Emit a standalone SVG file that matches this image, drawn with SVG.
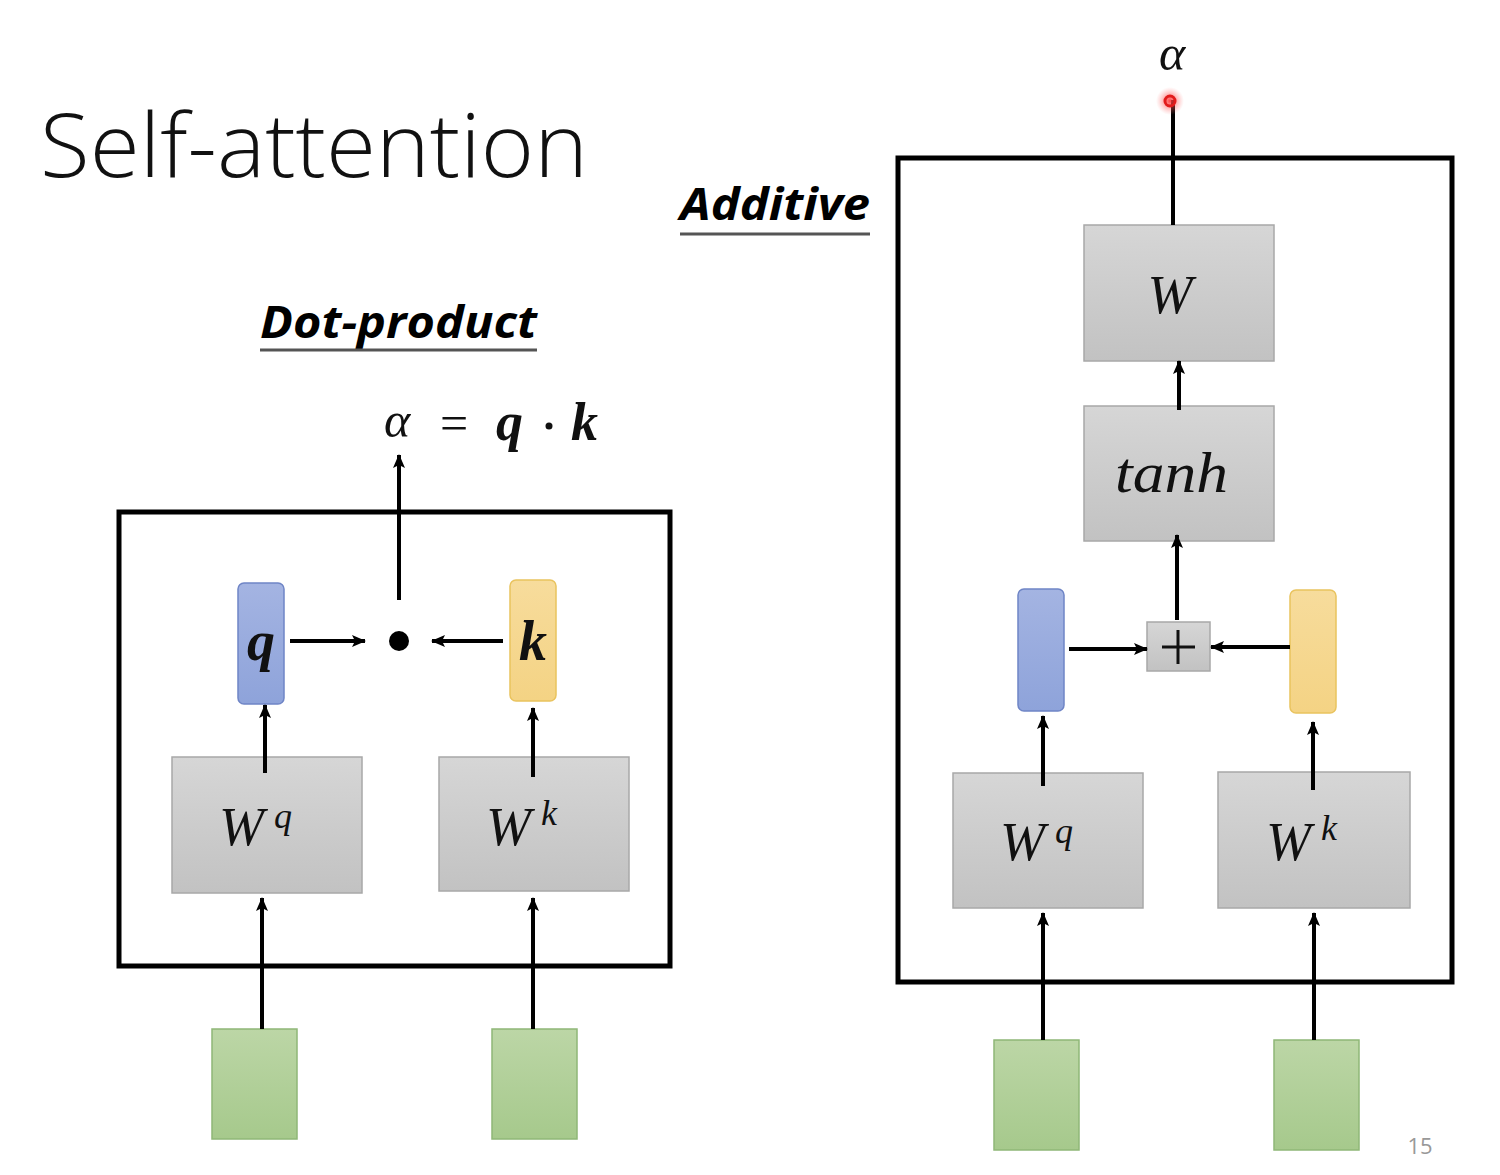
<svg xmlns="http://www.w3.org/2000/svg" width="1500" height="1175" viewBox="0 0 1500 1175">
<defs>
<linearGradient id="gGray" x1="0" y1="0" x2="0" y2="1"><stop offset="0" stop-color="#d6d6d6"/><stop offset="1" stop-color="#c2c2c2"/></linearGradient>
<linearGradient id="gBlue" x1="0" y1="0" x2="0" y2="1"><stop offset="0" stop-color="#a4b4e2"/><stop offset="1" stop-color="#8ea3da"/></linearGradient>
<linearGradient id="gYel" x1="0" y1="0" x2="0" y2="1"><stop offset="0" stop-color="#f7dc9c"/><stop offset="1" stop-color="#f4d384"/></linearGradient>
<linearGradient id="gGreen" x1="0" y1="0" x2="0" y2="1"><stop offset="0" stop-color="#bcd6a6"/><stop offset="1" stop-color="#a6c98c"/></linearGradient>
<radialGradient id="gGlow"><stop offset="0" stop-color="#ff3030" stop-opacity="0.9"/><stop offset="0.5" stop-color="#ff5050" stop-opacity="0.4"/><stop offset="1" stop-color="#ff8080" stop-opacity="0"/></radialGradient>
<marker id="ah" viewBox="0 0 14 12" refX="13" refY="6" markerWidth="14" markerHeight="12" markerUnits="userSpaceOnUse" orient="auto"><path d="M0,0 L14,6 L0,12 L3,6 Z" fill="#000"/></marker>
</defs>
<style>
.frame{fill:none;stroke:#000;stroke-width:5}
.gray{fill:url(#gGray);stroke:#a8a8a8;stroke-width:1.5}
.blue{fill:url(#gBlue);stroke:#6f85c6;stroke-width:1.5}
.yel{fill:url(#gYel);stroke:#e9c35e;stroke-width:1.5}
.green{fill:url(#gGreen);stroke:#8fb777;stroke-width:1.5}
.ln{stroke:#000;stroke-width:4;fill:none}
.arr{stroke:#000;stroke-width:4;fill:none;marker-end:url(#ah)}
.math{font-family:"Liberation Serif","DejaVu Serif",serif;font-style:italic;fill:#111}
.hdr{font-family:"Open Sans","Noto Sans",sans-serif;font-style:italic;font-weight:700;fill:#000}
</style>
<rect width="1500" height="1175" fill="#fff"/>
<text x="40" y="177" font-family="'Open Sans','Noto Sans',sans-serif" font-weight="300" font-size="88" fill="#111" textLength="548" lengthAdjust="spacingAndGlyphs">Self-attention</text>
<g id="hdr-dot"><text class="hdr" x="260" y="338" font-size="44" textLength="277" lengthAdjust="spacingAndGlyphs">Dot-product</text><line x1="260" y1="350" x2="537" y2="350" stroke="#555" stroke-width="3"/></g>
<g id="hdr-add"><text class="hdr" x="680" y="220" font-size="44" textLength="190" lengthAdjust="spacingAndGlyphs">Additive</text><line x1="680" y1="234" x2="870" y2="234" stroke="#555" stroke-width="3"/></g>
<g id="formula"><text class="math" x="384" y="437" font-size="50">α</text><text x="440" y="440" font-family="'Liberation Serif',serif" font-size="50" fill="#111">=</text><text class="math" x="496" y="440" font-size="54" font-weight="700">q</text><circle cx="549" cy="426" r="3.5" fill="#111"/><text class="math" x="571" y="440" font-size="54" font-weight="700">k</text></g>
<g id="left-frame"><rect class="frame" x="119" y="512" width="551" height="454"/></g>
<g id="right-frame"><rect class="frame" x="898" y="158" width="554" height="824"/></g>
<g id="l-q"><rect class="blue" x="238" y="583" width="46" height="121" rx="6"/><text class="math" x="261" y="660" font-size="56" font-weight="700" text-anchor="middle">q</text></g>
<g id="l-k"><rect class="yel" x="510" y="580" width="46" height="121" rx="6"/><text class="math" x="533" y="660" font-size="56" font-weight="700" text-anchor="middle">k</text></g>
<g id="l-dot"><circle cx="399" cy="641" r="10" fill="#000"/></g>
<g id="l-wq"><rect class="gray" x="172" y="757" width="190" height="136"/><text class="math" x="219" y="845" font-size="54">W</text><text class="math" x="274" y="828" font-size="36">q</text></g>
<g id="l-wk"><rect class="gray" x="439" y="757" width="190" height="134"/><text class="math" x="486" y="845" font-size="54">W</text><text class="math" x="541" y="825" font-size="36">k</text></g>
<g id="l-in1"><rect class="green" x="212" y="1029" width="85" height="110"/></g>
<g id="l-in2"><rect class="green" x="492" y="1029" width="85" height="110"/></g>
<g id="alpha-r"><text class="math" x="1172" y="70" font-size="50" text-anchor="middle">α</text></g>
<g id="r-w"><rect class="gray" x="1084" y="225" width="190" height="136"/><text class="math" x="1170" y="313" font-size="54" text-anchor="middle">W</text></g>
<g id="r-tanh"><rect class="gray" x="1084" y="406" width="190" height="135"/><text class="math" x="1115" y="492" font-size="56" textLength="113" lengthAdjust="spacingAndGlyphs">tanh</text></g>
<g id="r-plus"><rect class="gray" x="1147" y="622" width="63" height="49"/><line x1="1178" y1="630" x2="1178" y2="664" stroke="#111" stroke-width="3"/><line x1="1162" y1="647" x2="1195" y2="647" stroke="#111" stroke-width="3"/></g>
<g id="r-q"><rect class="blue" x="1018" y="589" width="46" height="122" rx="6"/></g>
<g id="r-k"><rect class="yel" x="1290" y="590" width="46" height="123" rx="6"/></g>
<g id="r-wq"><rect class="gray" x="953" y="773" width="190" height="135"/><text class="math" x="1000" y="860" font-size="54">W</text><text class="math" x="1055" y="843" font-size="36">q</text></g>
<g id="r-wk"><rect class="gray" x="1218" y="772" width="192" height="136"/><text class="math" x="1266" y="860" font-size="54">W</text><text class="math" x="1321" y="840" font-size="36">k</text></g>
<g id="r-in1"><rect class="green" x="994" y="1040" width="85" height="110"/></g>
<g id="r-in2"><rect class="green" x="1274" y="1040" width="85" height="110"/></g>
<g id="connectors">
<line class="arr" x1="290" y1="641" x2="365" y2="641"/>
<line class="arr" x1="503" y1="641" x2="432" y2="641"/>
<line class="arr" x1="399" y1="600" x2="399" y2="455"/>
<line class="arr" x1="265" y1="773" x2="265" y2="705"/>
<line class="arr" x1="533" y1="777" x2="533" y2="708"/>
<line class="arr" x1="262" y1="1029" x2="262" y2="898"/>
<line class="arr" x1="533" y1="1029" x2="533" y2="898"/>
<line class="ln" x1="1173" y1="100" x2="1173" y2="225"/>
<line class="arr" x1="1179" y1="410" x2="1179" y2="361"/>
<line class="arr" x1="1177" y1="620" x2="1177" y2="535"/>
<line class="arr" x1="1069" y1="649" x2="1147" y2="649"/>
<line class="arr" x1="1290" y1="647" x2="1211" y2="647"/>
<line class="arr" x1="1043" y1="786" x2="1043" y2="716"/>
<line class="arr" x1="1313" y1="790" x2="1313" y2="722"/>
<line class="arr" x1="1043" y1="1040" x2="1043" y2="913"/>
<line class="arr" x1="1314" y1="1040" x2="1314" y2="913"/>
</g>
<g id="pointer"><circle cx="1170" cy="101" r="14" fill="url(#gGlow)"/><circle cx="1170" cy="101" r="5" fill="none" stroke="#e21b1b" stroke-width="3"/></g>
<text x="1420" y="1154" font-family="'Open Sans','Noto Sans',sans-serif" font-size="22" fill="#999" text-anchor="middle">15</text>
</svg>
